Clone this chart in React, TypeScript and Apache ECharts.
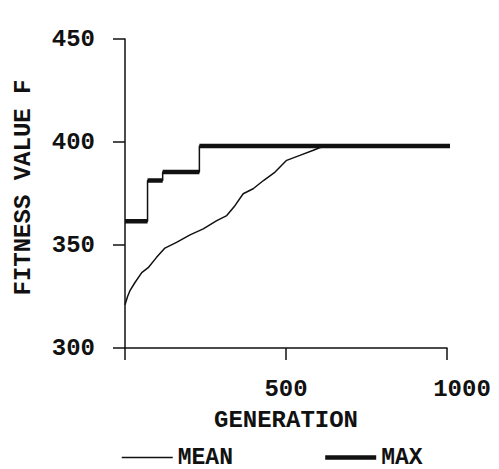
import React, { useEffect, useRef } from "react";
import * as echarts from "echarts";

const xTicks = [0, 500, 1000];
const yTicks = [300, 350, 400, 450];
const seriesNames = ["MEAN", "MAX"];

const meanGen = [0, 8, 15, 31, 52, 72, 98, 124, 160, 202, 243, 285, 316, 342, 367, 398, 430, 466, 502, 543, 585, 606, 640, 1015];
const meanVal = [321, 325, 327.7, 331.8, 336.6, 339, 344, 348.5, 351.3, 354.9, 357.8, 361.8, 364.3, 369.2, 374.9, 377.3, 381.3, 385.4, 391.1, 393.5, 396, 397.3, 398, 398];

const maxGen = [0, 70, 117, 231, 1015];
const maxVal = [361.5, 381.3, 385.4, 398, 398];

const FONT = "Liberation Mono";
const INK = "#111";

// thick plateaus (horizontal parts of the max step curve), separated by gaps
const plateaus: (number[] | null)[] = [];
for (let i = 0; i < maxGen.length - 1; i++) {
  plateaus.push([maxGen[i], maxVal[i]], [maxGen[i + 1], maxVal[i]]);
  if (i < maxGen.length - 2) plateaus.push(null);
}

export default function App() {
  const ref = useRef<HTMLDivElement>(null);
  useEffect(() => {
    if (!ref.current) return;
    const chart = echarts.init(ref.current, undefined, { renderer: "svg" });
    const text = { fontFamily: FONT, fontWeight: "bold" as const, fontSize: 24, color: INK };
    chart.setOption({
      animation: false,
      backgroundColor: "#fff",
      grid: { left: 125, right: 52, top: 39, bottom: 121 },
      xAxis: {
        type: "value",
        min: xTicks[0],
        max: xTicks[xTicks.length - 1],
        interval: 500,
        name: "GENERATION",
        nameLocation: "middle",
        nameGap: 60,
        nameTextStyle: { ...text },
        axisLine: { show: true, lineStyle: { color: INK, width: 1.5 } },
        axisTick: { show: true, inside: false, length: 12, lineStyle: { color: INK, width: 1.5 } },
        splitLine: { show: false },
        axisLabel: {
          ...text,
          margin: 29,
          formatter: (v: number) => (v === 0 ? "" : v === 1000 ? "{r|" + v + "}" : String(v)),
          rich: { r: { ...text, padding: [0, 0, 0, 30] } },
        },
      },
      yAxis: {
        type: "value",
        min: yTicks[0],
        max: yTicks[yTicks.length - 1],
        interval: 50,
        name: "FITNESS VALUE F",
        nameLocation: "middle",
        nameGap: 90,
        nameRotate: 90,
        nameTextStyle: { ...text, padding: [0, 0, 0, 12] },
        axisLine: { show: true, lineStyle: { color: INK, width: 1.5 } },
        axisTick: { show: true, inside: false, length: 12, lineStyle: { color: INK, width: 1.5 } },
        splitLine: { show: false },
        axisLabel: { ...text, margin: 30 },
      },
      legend: {
        left: 121,
        top: 446,
        padding: 0,
        itemWidth: 51,
        itemHeight: 14,
        itemGap: 90,
        textStyle: { ...text, fontSize: 23, lineHeight: 18 },
        itemStyle: { opacity: 0 },
        data: [
          { name: seriesNames[0], lineStyle: { width: 1.5, color: INK }, itemStyle: { opacity: 0 } },
          { name: seriesNames[1], lineStyle: { width: 4.5, color: INK }, itemStyle: { opacity: 0 } },
        ],
      },
      series: [
        {
          name: seriesNames[0],
          type: "line",
          symbol: "none",
          clip: false,
          lineStyle: { color: INK, width: 1.5 },
          itemStyle: { color: INK },
          data: meanGen.map((g, i) => [g, meanVal[i]]),
        },
        {
          name: "MAX steps",
          type: "line",
          symbol: "none",
          step: "end",
          clip: false,
          lineStyle: { color: INK, width: 1.5 },
          itemStyle: { color: INK },
          data: maxGen.map((g, i) => [g, maxVal[i]]),
        },
        {
          name: seriesNames[1],
          type: "line",
          symbol: "none",
          clip: false,
          connectNulls: false,
          lineStyle: { color: INK, width: 4.5 },
          itemStyle: { color: INK },
          data: plateaus,
        },
      ],
    });
    return () => chart.dispose();
  }, []);
  return <div ref={ref} style={{ position: "fixed", left: 0, top: 0, width: 499, height: 469 }} />;
}
